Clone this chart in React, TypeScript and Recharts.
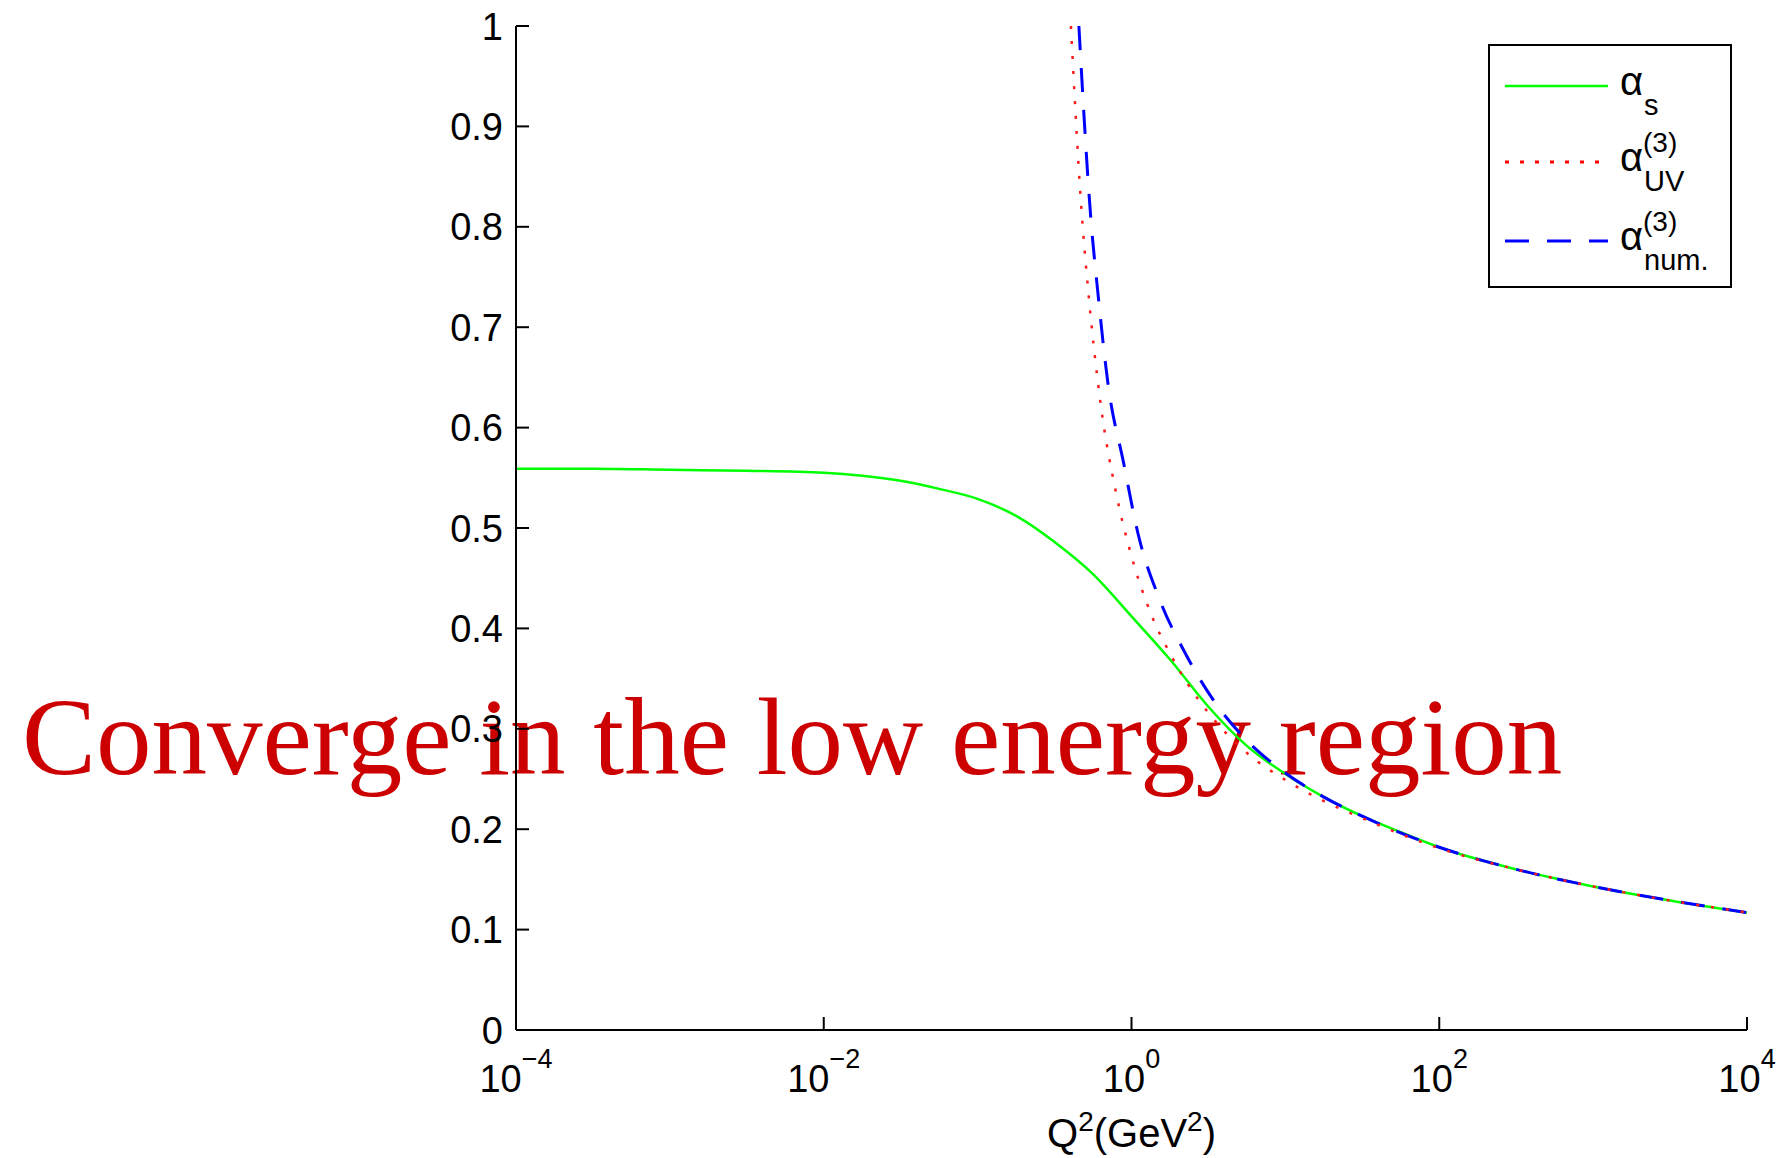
import { Legend, Line, LineChart, XAxis, YAxis } from 'recharts';

// axis ticks
const xTicks = [1e-4, 1e-2, 1, 1e2, 1e4];
const xTickExponents = ['−4', '−2', '0', '2', '4'];
const yTicks = [0, 0.1, 0.2, 0.3, 0.4, 0.5, 0.6, 0.7, 0.8, 0.9, 1];

// alpha_s (green, solid)
const alphaSQ2 = [1e-4, 3.16e-4, 1e-3, 3.16e-3, 1e-2, 0.0178, 0.0316, 0.0562, 0.1, 0.178, 0.316, 0.562, 1, 1.78, 3.16, 5.62, 10, 17.8, 31.6, 56.2, 100, 316, 1000, 3160, 1e4];
const alphaS = [0.559, 0.559, 0.558, 0.557, 0.555, 0.552, 0.547, 0.539, 0.529, 0.512, 0.486, 0.454, 0.412, 0.369, 0.322, 0.283, 0.255, 0.232, 0.213, 0.197, 0.182, 0.16, 0.143, 0.129, 0.117];

// alpha_UV^(3) (red, dotted)
const alphaUvQ2 = [0.404, 0.468, 0.525, 0.631, 0.794, 1, 1.35, 1.78, 2.29, 3.16, 5.62, 10, 17.8, 31.6, 100, 316, 1000, 3160, 1e4];
const alphaUv = [1.0, 0.827, 0.734, 0.623, 0.535, 0.472, 0.413, 0.375, 0.346, 0.316, 0.276, 0.249, 0.228, 0.211, 0.181, 0.16, 0.143, 0.129, 0.117];

// alpha_num.^(3) (blue, dashed)
const alphaNumQ2 = [0.455, 0.545, 0.605, 0.703, 0.891, 1.1, 1.53, 2.24, 3.39, 5.25, 10, 17.8, 31.6, 100, 316, 1000, 3160, 1e4];
const alphaNum = [1.0, 0.807, 0.734, 0.644, 0.564, 0.495, 0.428, 0.375, 0.329, 0.293, 0.256, 0.232, 0.213, 0.182, 0.16, 0.143, 0.129, 0.117];

const toPoints = (q2: number[], alpha: number[]) => q2.map((q, i) => ({ q2: q, alpha: alpha[i] }));

const SANS = '"Liberation Sans", Arial, Helvetica, sans-serif';
const TICK_LEN = 13;

const LeftTick = ({ x, y, payload }: any) => (
  <g>
    <line x1={x + TICK_LEN} x2={x + TICK_LEN * 2} y1={y} y2={y} stroke='#000' strokeWidth={2} />
    <text x={x} y={y} dy='0.36em' textAnchor='end' fontFamily={SANS} fontSize={38} fill='#000'>
      {String(payload.value)}
    </text>
  </g>
);

const RightTick = ({ x, y }: any) => (
  <line x1={x} x2={x - TICK_LEN} y1={y} y2={y} stroke='#000' strokeWidth={2} />
);

const BottomTick = ({ x, y, payload, index }: any) => (
  <g>
    <line x1={x} x2={x} y1={y} y2={y - TICK_LEN} stroke='#000' strokeWidth={2} />
    <text x={x} y={y + 62} textAnchor='middle' fontFamily={SANS} fontSize={38} fill='#000'>
      <tspan>10</tspan>
      <tspan dy={-24} fontSize={27}>{xTickExponents[index] ?? ''}</tspan>
    </text>
  </g>
);

const TopTick = ({ x, y }: any) => (
  <line x1={x} x2={x} y1={y} y2={y + TICK_LEN} stroke='#000' strokeWidth={2} />
);

const XTitle = ({ viewBox }: any) => (
  <text x={viewBox.x + viewBox.width / 2} y={viewBox.y + 117} textAnchor='middle' fontFamily={SANS} fontSize={40} fill='#000'>
    <tspan>Q</tspan>
    <tspan dy={-16} fontSize={28}>2</tspan>
    <tspan dy={16}>(GeV</tspan>
    <tspan dy={-16} fontSize={28}>2</tspan>
    <tspan dy={16}>)</tspan>
  </text>
);

const legendRows = [
  { color: '#00ff00', dash: undefined, sub: 's', sup: '' },
  { color: '#ff0000', dash: '4 11', sub: 'UV', sup: '(3)' },
  { color: '#0000ff', dash: '24 18', sub: 'num.', sup: '(3)' },
];
const legendRowY = [42, 118, 197];

const LegendBox = () => (
  <svg width={244} height={244} style={{ display: 'block' }}>
    <rect x={1} y={1} width={242} height={242} fill='#fff' stroke='#000' strokeWidth={2} />
    {legendRows.map((r, i) => {
      const ly = legendRowY[i];
      return (
        <g key={i}>
          <line x1={17} x2={120} y1={ly} y2={ly} stroke={r.color} strokeWidth={r.dash ? 3 : 2.5} strokeDasharray={r.dash} />
          <text x={132} y={ly + 9} fontFamily={SANS} fontSize={40} fill='#000'>α</text>
          <text x={156} y={ly + 29} fontFamily={SANS} fontSize={29} fill='#000'>{r.sub}</text>
          {r.sup && (
            <text x={155} y={ly - 10} fontFamily={SANS} fontSize={28} fill='#000'>{r.sup}</text>
          )}
        </g>
      );
    })}
  </svg>
);

export default function App() {
  return (
    <div style={{ position: 'absolute', left: 0, top: 0, width: 1780, height: 1158, background: '#fff', overflow: 'hidden' }}>
      <svg width={1780} height={1158} style={{ position: 'absolute', left: 0, top: 0 }}>
        <text x={22} y={774} fontFamily='"Liberation Serif", "Times New Roman", serif' fontSize={111} fill='#cc0000'>
          Converge in the low energy region
        </text>
      </svg>
      <div style={{ position: 'absolute', left: 0, top: 0 }}>
        <LineChart width={1780} height={1158} margin={{ top: 26, right: 33, bottom: 68, left: 436 }}>
          <XAxis
            dataKey='q2'
            type='number'
            scale='log'
            domain={[1e-4, 1e4]}
            allowDataOverflow
            ticks={xTicks}
            interval={0}
            height={60}
            tickSize={0}
            tickMargin={0}
            tickLine={false}
            tick={<BottomTick />}
            axisLine={{ stroke: '#000', strokeWidth: 2 }}
            label={<XTitle />}
          />
          <XAxis
            xAxisId='top'
            orientation='top'
            type='number'
            scale='log'
            domain={[1e-4, 1e4]}
            allowDataOverflow
            ticks={xTicks}
            interval={0}
            height={0}
            tickSize={0}
            tickMargin={0}
            tickLine={false}
            tick={<TopTick />}
            axisLine={{ stroke: '#000', strokeWidth: 2 }}
          />
          <YAxis
            type='number'
            domain={[0, 1]}
            allowDataOverflow
            ticks={yTicks}
            interval={0}
            width={80}
            tickSize={0}
            tickMargin={13}
            tickLine={false}
            tick={<LeftTick />}
            axisLine={{ stroke: '#000', strokeWidth: 2 }}
          />
          <YAxis
            yAxisId='right'
            orientation='right'
            type='number'
            domain={[0, 1]}
            allowDataOverflow
            ticks={yTicks}
            interval={0}
            width={0}
            tickSize={0}
            tickMargin={0}
            tickLine={false}
            tick={<RightTick />}
            axisLine={{ stroke: '#000', strokeWidth: 2 }}
          />
          <Legend
            layout='horizontal'
            verticalAlign='middle'
            align='center'
            content={<LegendBox />}
            wrapperStyle={{ position: 'absolute', left: 1488, top: 44, width: 244, height: 244 }}
          />
          <Line
            data={toPoints(alphaSQ2, alphaS)}
            dataKey='alpha'
            type='monotone'
            stroke='#00ff00'
            strokeWidth={2.5}
            dot={false}
            isAnimationActive={false}
          />
          <Line
            data={toPoints(alphaNumQ2, alphaNum)}
            dataKey='alpha'
            type='monotone'
            stroke='#0000ff'
            strokeWidth={3}
            strokeDasharray='24 18'
            dot={false}
            isAnimationActive={false}
          />
          <Line
            data={toPoints(alphaUvQ2, alphaUv)}
            dataKey='alpha'
            type='monotone'
            stroke='#ff1a1a'
            strokeWidth={2.5}
            strokeDasharray='3 12'
            dot={false}
            isAnimationActive={false}
          />
        </LineChart>
      </div>
    </div>
  );
}
